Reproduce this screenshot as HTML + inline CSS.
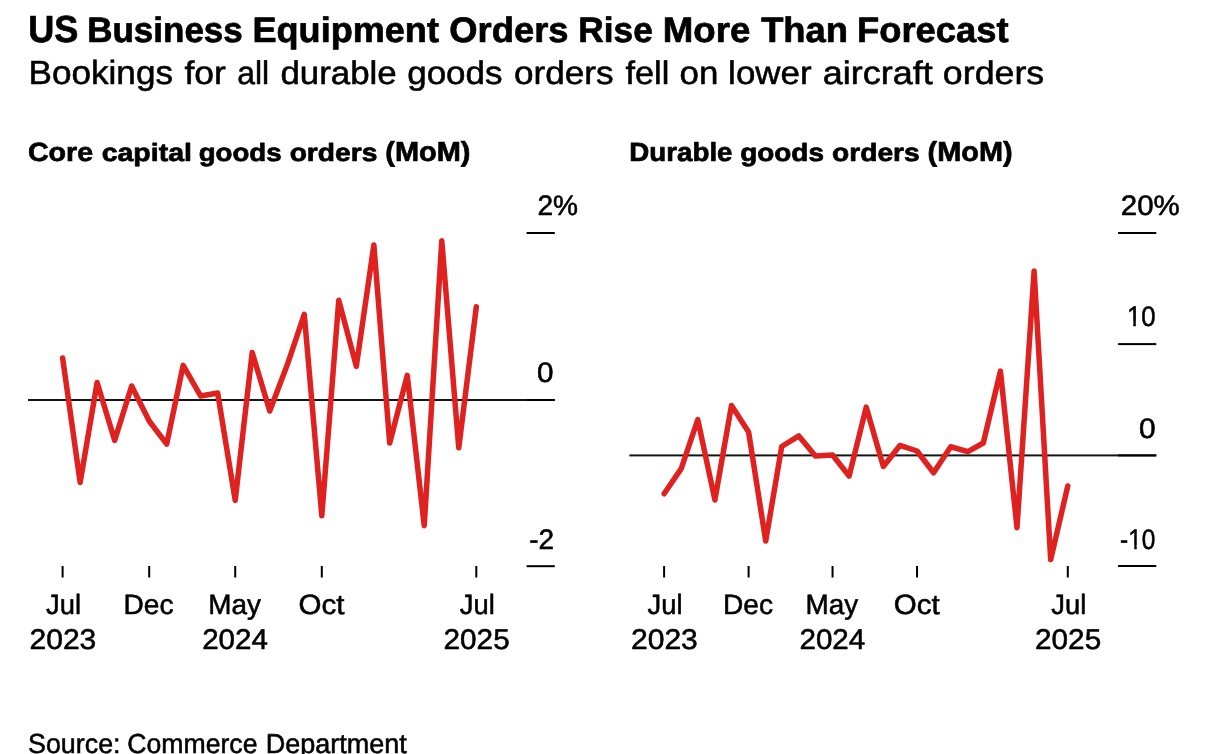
<!DOCTYPE html>
<html lang="en">
<head>
<meta charset="utf-8">
<title>US Business Equipment Orders Rise More Than Forecast</title>
<style>
html,body{margin:0;padding:0;background:#fff;}
body{width:1230px;height:754px;overflow:hidden;}
svg{display:block;}
text{font-family:"Liberation Sans", Arial, Helvetica, sans-serif;fill:#000;stroke:#000;stroke-width:0.55px;stroke-linejoin:round;text-rendering:geometricPrecision;white-space:pre;}
.b{font-weight:700;stroke-width:0.7px;}
</style>
</head>
<body>
<svg width="1230" height="754" viewBox="0 0 1230 754">
<rect width="1230" height="754" fill="#fff"/>
<!-- chart 1: core capital goods orders -->
<rect x="28.00" y="399.00" width="526.80" height="2.0" fill="#141414"/>
<rect x="526.60" y="232.00" width="28.20" height="2.0" fill="#000"/>
<rect x="526.60" y="399.00" width="28.20" height="2.0" fill="#000"/>
<rect x="526.60" y="565.20" width="28.20" height="2.0" fill="#000"/>
<rect x="61.60" y="566" width="2" height="11.50" fill="#000"/>
<rect x="148.19" y="566" width="2" height="11.50" fill="#000"/>
<rect x="234.21" y="566" width="2" height="11.50" fill="#000"/>
<rect x="320.80" y="566" width="2" height="11.50" fill="#000"/>
<rect x="475.30" y="566" width="2" height="11.50" fill="#000"/>
<polyline points="62.60,357.95 80.14,482.45 97.12,382.55 114.67,440.35 131.64,385.95 149.19,421.00 166.73,444.05 183.14,365.35 200.69,396.05 217.67,392.95 235.21,500.35 252.19,352.45 269.73,411.05 287.28,364.80 304.26,314.35 321.80,515.75 338.78,300.15 356.32,366.35 373.87,244.95 389.71,443.05 407.26,375.35 424.23,525.65 441.78,240.85 458.76,447.85 476.30,306.85" fill="none" stroke="#df2220" stroke-width="5.5" stroke-linejoin="round" stroke-linecap="round"/>
<!-- chart 2: durable goods orders -->
<rect x="629.40" y="454.40" width="526.90" height="2.0" fill="#141414"/>
<rect x="1118.10" y="232.00" width="38.20" height="2.0" fill="#000"/>
<rect x="1118.10" y="343.10" width="38.20" height="2.0" fill="#000"/>
<rect x="1118.10" y="454.40" width="38.20" height="2.0" fill="#000"/>
<rect x="1118.10" y="565.00" width="38.20" height="2.0" fill="#000"/>
<rect x="663.10" y="566" width="2" height="11.50" fill="#000"/>
<rect x="747.60" y="566" width="2" height="11.50" fill="#000"/>
<rect x="831.54" y="566" width="2" height="11.50" fill="#000"/>
<rect x="916.03" y="566" width="2" height="11.50" fill="#000"/>
<rect x="1066.80" y="566" width="2" height="11.50" fill="#000"/>
<polyline points="664.10,493.75 681.22,468.60 697.79,419.65 714.91,500.05 731.48,405.45 748.60,432.00 765.72,541.05 781.73,446.50 798.85,435.95 815.42,456.05 832.54,454.95 849.11,476.05 866.23,407.15 883.35,466.45 899.91,445.45 917.03,451.00 933.60,472.75 950.72,446.75 967.84,451.55 983.30,443.00 1000.42,371.15 1016.99,527.65 1034.11,270.95 1050.68,559.55 1067.80,485.95" fill="none" stroke="#df2220" stroke-width="5.5" stroke-linejoin="round" stroke-linecap="round"/>
<!-- text -->
<text class="b" y="42" font-size="33.8"><tspan x="28.14" font-size="37.7" textLength="50.10" lengthAdjust="spacingAndGlyphs">US</tspan> <tspan x="87.17" font-size="35.36" textLength="155.64" lengthAdjust="spacingAndGlyphs">Business</tspan> <tspan x="252.51" font-size="35.36" textLength="186.41" lengthAdjust="spacingAndGlyphs">Equipment</tspan> <tspan x="449.32" font-size="35.36" textLength="119.21" lengthAdjust="spacingAndGlyphs">Orders</tspan> <tspan x="578.36" font-size="35.36" textLength="74.46" lengthAdjust="spacingAndGlyphs">Rise</tspan> <tspan x="662.78" font-size="35.36" textLength="87.56" lengthAdjust="spacingAndGlyphs">More</tspan> <tspan x="761.15" font-size="35.36" textLength="86.84" lengthAdjust="spacingAndGlyphs">Than</tspan> <tspan x="856.99" font-size="35.36" textLength="151.63" lengthAdjust="spacingAndGlyphs">Forecast</tspan></text>
<text y="84" font-size="32.6"><tspan x="28.48" font-size="33.48" textLength="144.52" lengthAdjust="spacingAndGlyphs">Bookings</tspan> <tspan x="184.47" textLength="41.39" lengthAdjust="spacingAndGlyphs">for</tspan> <tspan x="237.29" textLength="31.94" lengthAdjust="spacingAndGlyphs">all</tspan> <tspan x="280.40" textLength="116.32" lengthAdjust="spacingAndGlyphs">durable</tspan> <tspan x="407.20" textLength="95.33" lengthAdjust="spacingAndGlyphs">goods</tspan> <tspan x="513.90" textLength="99.64" lengthAdjust="spacingAndGlyphs">orders</tspan> <tspan x="625.57" textLength="43.75" lengthAdjust="spacingAndGlyphs">fell</tspan> <tspan x="679.50" textLength="38.79" lengthAdjust="spacingAndGlyphs">on</tspan> <tspan x="728.13" textLength="83.43" lengthAdjust="spacingAndGlyphs">lower</tspan> <tspan x="822.87" textLength="109.91" lengthAdjust="spacingAndGlyphs">aircraft</tspan> <tspan x="942.88" textLength="101.37" lengthAdjust="spacingAndGlyphs">orders</tspan></text>
<text class="b" y="161" font-size="25.0"><tspan x="27.96" font-size="26.24" textLength="65.13" lengthAdjust="spacingAndGlyphs">Core</tspan> <tspan x="101.65" textLength="90.28" lengthAdjust="spacingAndGlyphs">capital</tspan> <tspan x="198.74" textLength="82.90" lengthAdjust="spacingAndGlyphs">goods</tspan> <tspan x="289.65" textLength="87.72" lengthAdjust="spacingAndGlyphs">orders</tspan> <tspan x="385.30" font-size="27.48" textLength="85.16" lengthAdjust="spacingAndGlyphs">(MoM)</tspan></text>
<text class="b" y="161" font-size="25.0"><tspan x="629.29" font-size="26.24" textLength="103.28" lengthAdjust="spacingAndGlyphs">Durable</tspan> <tspan x="740.23" textLength="83.73" lengthAdjust="spacingAndGlyphs">goods</tspan> <tspan x="832.05" textLength="87.62" lengthAdjust="spacingAndGlyphs">orders</tspan> <tspan x="927.60" font-size="27.48" textLength="84.96" lengthAdjust="spacingAndGlyphs">(MoM)</tspan></text>
<text y="753" font-size="26.8"><tspan x="28.00" font-size="27.44" textLength="92.52" lengthAdjust="spacingAndGlyphs">Source:</tspan> <tspan x="127.30" font-size="27.44" textLength="130.17" lengthAdjust="spacingAndGlyphs">Commerce</tspan> <tspan x="265.81" font-size="27.44" textLength="141.05" lengthAdjust="spacingAndGlyphs">Department</tspan></text>
<text y="614" font-size="27.6"><tspan x="46.12" font-size="27.96" textLength="34.93" lengthAdjust="spacingAndGlyphs">Jul</tspan></text>
<text y="649" font-size="27.6"><tspan x="29.52" font-size="28.5" textLength="66.80" lengthAdjust="spacingAndGlyphs">2023</tspan></text>
<text y="614" font-size="27.6"><tspan x="123.60" font-size="27.96" textLength="49.94" lengthAdjust="spacingAndGlyphs">Dec</tspan></text>
<text y="614" font-size="27.6"><tspan x="208.24" font-size="27.96" textLength="52.72" lengthAdjust="spacingAndGlyphs">May</tspan></text>
<text y="649" font-size="27.6"><tspan x="202.15" font-size="28.5" textLength="65.73" lengthAdjust="spacingAndGlyphs">2024</tspan></text>
<text y="614" font-size="27.6"><tspan x="298.62" font-size="27.96" textLength="45.86" lengthAdjust="spacingAndGlyphs">Oct</tspan></text>
<text y="614" font-size="27.6"><tspan x="459.82" font-size="27.96" textLength="34.93" lengthAdjust="spacingAndGlyphs">Jul</tspan></text>
<text y="649" font-size="27.6"><tspan x="443.58" font-size="28.5" textLength="66.08" lengthAdjust="spacingAndGlyphs">2025</tspan></text>
<text y="614" font-size="27.6"><tspan x="647.62" font-size="27.96" textLength="34.93" lengthAdjust="spacingAndGlyphs">Jul</tspan></text>
<text y="649" font-size="27.6"><tspan x="631.02" font-size="28.5" textLength="66.80" lengthAdjust="spacingAndGlyphs">2023</tspan></text>
<text y="614" font-size="27.6"><tspan x="723.01" font-size="27.96" textLength="49.94" lengthAdjust="spacingAndGlyphs">Dec</tspan></text>
<text y="614" font-size="27.6"><tspan x="805.57" font-size="27.96" textLength="52.72" lengthAdjust="spacingAndGlyphs">May</tspan></text>
<text y="649" font-size="27.6"><tspan x="799.48" font-size="28.5" textLength="65.73" lengthAdjust="spacingAndGlyphs">2024</tspan></text>
<text y="614" font-size="27.6"><tspan x="893.85" font-size="27.96" textLength="45.86" lengthAdjust="spacingAndGlyphs">Oct</tspan></text>
<text y="614" font-size="27.6"><tspan x="1051.33" font-size="27.96" textLength="34.93" lengthAdjust="spacingAndGlyphs">Jul</tspan></text>
<text y="649" font-size="27.6"><tspan x="1035.08" font-size="28.5" textLength="66.08" lengthAdjust="spacingAndGlyphs">2025</tspan></text>
<text y="215" font-size="27.6"><tspan x="537.38" font-size="28.2" textLength="40.61" lengthAdjust="spacingAndGlyphs">2%</tspan></text>
<text y="382" font-size="27.6"><tspan x="537.12" font-size="28.2" textLength="16.52" lengthAdjust="spacingAndGlyphs">0</tspan></text>
<text y="549" font-size="27.6"><tspan x="529.28" font-size="28.2" textLength="24.92" lengthAdjust="spacingAndGlyphs">-2</tspan></text>
<text y="215" font-size="27.6"><tspan x="1120.83" font-size="28.2" textLength="58.96" lengthAdjust="spacingAndGlyphs">20%</tspan></text>
<text y="326" font-size="27.6"><tspan x="1126.95" font-size="28.2" textLength="28.59" lengthAdjust="spacingAndGlyphs">10</tspan></text>
<text y="438" font-size="27.6"><tspan x="1139.01" font-size="28.2" textLength="16.63" lengthAdjust="spacingAndGlyphs">0</tspan></text>
<text y="549" font-size="27.6"><tspan x="1120.11" font-size="28.2" textLength="35.30" lengthAdjust="spacingAndGlyphs">-10</tspan></text>
<!-- trim the base serif of the digit 1 (the reference typeface has a plain 1) -->
<rect x="1127.5" y="322.0" width="5.74" height="5.5" fill="#fff"/>
<rect x="1135.86" y="322.0" width="6.24" height="5.5" fill="#fff"/>
<rect x="1128.5" y="545.0" width="5.72" height="5.5" fill="#fff"/>
<rect x="1136.75" y="545.0" width="5.85" height="5.5" fill="#fff"/>
</svg>
</body>
</html>
